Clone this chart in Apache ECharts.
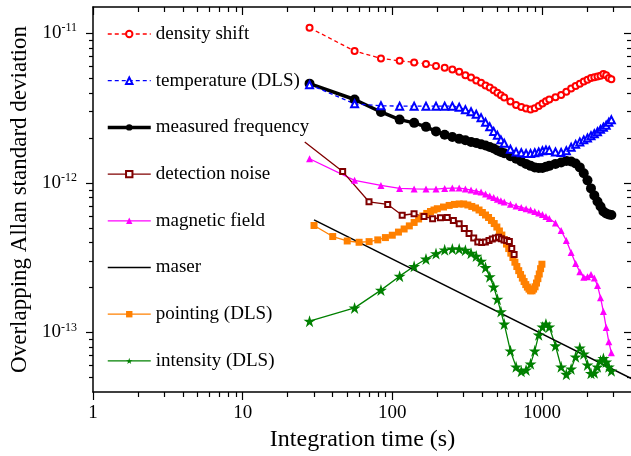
<!DOCTYPE html>
<html><head><meta charset="utf-8">
<script src="https://cdn.jsdelivr.net/npm/echarts@6/dist/echarts.min.js"></script>
<style>html,body{margin:0;padding:0;background:#fff}#c{width:631px;height:456px}</style>
</head><body><div id="c"></div>
<script>
// ---- data ----
const tau28 = [28,56,84,112,140,168,196,224,252,280,308,336,364,392,420,448,476,504,532,560,
  616,672,728,784,840,896,952,1008,1064,1120,
  1232,1344,1456,1568,1680,1792,1904,2016,2128,2240,2352,2464,2576,2688,2800,2912];

const densityShift = [1.09e-11,7.61e-12,6.80e-12,6.55e-12,6.39e-12,6.23e-12,6.04e-12,5.88e-12,5.74e-12,5.53e-12,
  5.25e-12,5.06e-12,4.84e-12,4.67e-12,4.48e-12,4.35e-12,4.17e-12,4.01e-12,3.86e-12,3.72e-12,
  3.50e-12,3.32e-12,3.22e-12,3.15e-12,3.10e-12,3.16e-12,3.27e-12,3.40e-12,3.52e-12,3.61e-12,
  3.74e-12,3.87e-12,4.07e-12,4.27e-12,4.45e-12,4.61e-12,4.77e-12,4.90e-12,5.02e-12,5.08e-12,
  5.15e-12,5.21e-12,5.35e-12,5.25e-12,5.02e-12,4.94e-12];

const temperatureDLS = [4.54e-12,3.38e-12,3.28e-12,3.26e-12,3.26e-12,3.26e-12,3.26e-12,3.26e-12,3.26e-12,3.21e-12,
  3.09e-12,2.99e-12,2.88e-12,2.73e-12,2.54e-12,2.37e-12,2.21e-12,2.08e-12,1.94e-12,1.84e-12,
  1.68e-12,1.61e-12,1.59e-12,1.57e-12,1.57e-12,1.59e-12,1.61e-12,1.64e-12,1.66e-12,1.65e-12,
  1.61e-12,1.60e-12,1.64e-12,1.73e-12,1.81e-12,1.88e-12,1.94e-12,2.00e-12,2.07e-12,2.13e-12,
  2.20e-12,2.28e-12,2.36e-12,2.43e-12,2.54e-12,2.64e-12];

const measuredFrequency = [4.61e-12,3.61e-12,2.98e-12,2.65e-12,2.52e-12,2.37e-12,2.21e-12,2.10e-12,2.03e-12,1.97e-12,
  1.93e-12,1.88e-12,1.85e-12,1.81e-12,1.78e-12,1.74e-12,1.70e-12,1.65e-12,1.61e-12,1.58e-12,
  1.51e-12,1.45e-12,1.39e-12,1.34e-12,1.30e-12,1.27e-12,1.26e-12,1.26e-12,1.28e-12,1.30e-12,
  1.34e-12,1.37e-12,1.40e-12,1.39e-12,1.35e-12,1.27e-12,1.16e-12,1.04e-12,9.19e-13,8.25e-13,
  7.52e-13,6.96e-13,6.44e-13,6.25e-13,6.15e-13,6.10e-13];

const magneticField = [1.45e-12,1.04e-12,9.62e-13,9.19e-13,9.12e-13,9.09e-13,9.09e-13,9.19e-13,9.23e-13,9.23e-13,
  9.12e-13,8.95e-13,8.81e-13,8.68e-13,8.44e-13,8.18e-13,7.99e-13,7.79e-13,7.60e-13,7.46e-13,
  7.20e-13,7.01e-13,6.85e-13,6.72e-13,6.59e-13,6.44e-13,6.29e-13,6.15e-13,5.96e-13,5.78e-13,
  5.39e-13,4.80e-13,4.12e-13,3.42e-13,2.89e-13,2.55e-13,2.34e-13,2.36e-13,2.44e-13,2.31e-13,
  2.06e-13,1.71e-13,1.38e-13,1.08e-13,8.66e-14,7.31e-14];

const intensityDLS = [1.19e-13,1.46e-13,1.92e-13,2.38e-13,2.77e-13,3.10e-13,3.37e-13,3.57e-13,3.62e-13,3.62e-13,
  3.55e-13,3.39e-13,3.24e-13,3.00e-13,2.72e-13,2.36e-13,2.02e-13,1.67e-13,1.38e-13,1.14e-13,
  7.54e-14,5.89e-14,5.50e-14,5.62e-14,6.17e-14,7.54e-14,9.65e-14,1.09e-13,1.14e-13,1.09e-13,
  8.15e-14,5.89e-14,5.26e-14,5.71e-14,6.87e-14,7.90e-14,7.20e-14,6.07e-14,5.33e-14,5.37e-14,
  5.89e-14,6.46e-14,6.71e-14,6.36e-14,5.89e-14,5.54e-14];

const tauDetection = [26,46.6,69.9,93.2,116.5,139.8,163,186,210,233,256,280,303,326,350,373,396,419,443,466,489,513,536,559,582,606,629,652];
const detectionNoise = [1.88e-12,1.19e-12,7.48e-13,7.18e-13,6.08e-13,6.22e-13,5.96e-13,5.76e-13,5.85e-13,5.87e-13,
  5.61e-13,5.33e-13,4.95e-13,4.59e-13,4.28e-13,4.02e-13,3.99e-13,4.02e-13,4.12e-13,4.21e-13,
  4.28e-13,4.33e-13,4.23e-13,4.16e-13,4.12e-13,4.05e-13,3.64e-13,3.32e-13];

const tauPointing = [30,40,50,60,70,80,90,100,110,120,130,140,150,160,170,180,190,200,
  220,240,260,280,300,320,340,360,380,400,420,440,460,480,500,520,540,560,580,600,
  620,640,660,680,700,720,740,760,780,800,820,840,860,880,900,920,940,960,980,1000];
const pointingDLS = [5.19e-13,4.38e-13,4.09e-13,4.01e-13,4.05e-13,4.16e-13,4.31e-13,4.47e-13,4.69e-13,4.92e-13,
  5.16e-13,5.44e-13,5.74e-13,6.01e-13,6.25e-13,6.44e-13,6.59e-13,6.72e-13,
  6.90e-13,7.07e-13,7.18e-13,7.23e-13,7.23e-13,7.12e-13,6.96e-13,6.80e-13,6.59e-13,6.34e-13,6.10e-13,5.87e-13,
  5.61e-13,5.35e-13,5.07e-13,4.77e-13,4.48e-13,4.18e-13,3.90e-13,3.64e-13,
  3.39e-13,3.17e-13,2.95e-13,2.76e-13,2.59e-13,2.44e-13,2.31e-13,2.19e-13,2.09e-13,2.01e-13,1.95e-13,1.90e-13,
  1.90e-13,1.95e-13,2.02e-13,2.14e-13,2.29e-13,2.46e-13,2.67e-13,2.86e-13];

const tauMaser = [30, 4000];
const maser = [5.66e-13, 4.9e-14];

const seriesNames = ['density shift','temperature (DLS)','measured frequency','detection noise',
  'magnetic field','maser','pointing (DLS)','intensity (DLS)'];

const xMajor = [1,10,100,1000];
const xMinor = [2,3,4,5,6,7,8,9,20,30,40,50,60,70,80,90,200,300,400,500,600,700,800,900,2000,3000];
const yMajor = [1e-13,1e-12,1e-11];
const yMinor = [5e-14,6e-14,7e-14,8e-14,9e-14,2e-13,3e-13,4e-13,5e-13,6e-13,7e-13,8e-13,9e-13,
  2e-12,3e-12,4e-12,5e-12,6e-12,7e-12,8e-12,9e-12];

// ---- chart ----
const FONT = 'Liberation Serif';
const zip = (xs, ys) => xs.map((x, i) => [x, ys[i]]);
const star = 'path://M0,-10L2.245,-3.09L9.51,-3.09L3.633,1.18L5.878,8.09L0,3.82L-5.878,8.09L-3.633,1.18L-9.51,-3.09L-2.245,-3.09Z';
const TICK = { color: '#000', width: 1.2 };

// one axis per tick set; the ticks follow the (custom) label positions
function axis(dim, pos, vals, len, inside, line, visibleLabels) {
  const a = {
    type: 'log', logBase: 10, gridIndex: 0, position: pos,
    min: dim === 'x' ? 1 : 4e-14, max: dim === 'x' ? 4000 : 1.5e-11,
    splitLine: { show: false },
    axisLine: { show: line, lineStyle: { color: '#000', width: 1.5 } },
    axisTick: { show: true, customValues: vals, length: len, inside: inside, lineStyle: TICK },
    axisLabel: { show: true, customValues: vals, hideOverlap: false, color: 'rgba(0,0,0,0)', fontSize: 1,
      margin: 0, inside: true, formatter: () => ' ' }
  };
  if (visibleLabels) {
    a.axisLabel = dim === 'x'
      ? { show: true, customValues: vals, margin: 12, color: '#000', fontFamily: FONT, fontSize: 19,
          formatter: v => String(Math.round(v)) }
      : { show: true, customValues: vals, margin: 16, color: '#000', fontFamily: FONT, fontSize: 19,
          formatter: v => '10{s|' + Math.round(Math.log10(v)) + '}',
          rich: { s: { fontFamily: FONT, fontSize: 12, padding: [0, 0, 10, 0], color: '#000' } } };
  }
  return a;
}

const xAxes = [
  Object.assign(axis('x', 'bottom', xMajor, 8, false, true, true), {
    name: 'Integration time (s)', nameLocation: 'middle', nameGap: 36,
    nameTextStyle: { fontFamily: FONT, fontSize: 24, color: '#000' } }),
  axis('x', 'bottom', xMinor, 5, false, false, false),
  axis('x', 'top', xMajor, 8, true, true, false),
  axis('x', 'top', xMinor, 5, true, false, false)
];
const yAxes = [
  Object.assign(axis('y', 'left', yMajor, 7, false, true, true), {
    name: 'Overlapping Allan standard deviation', nameLocation: 'middle', nameGap: 62,
    nameTextStyle: { fontFamily: FONT, fontSize: 23, color: '#000' } }),
  axis('y', 'left', yMinor, 4, false, false, false),
  axis('y', 'right', yMajor, 8, true, true, false),
  axis('y', 'right', yMinor, 5, true, false, false)
];

function line(name, data, color, symbol, size, width, dash) {
  return {
    name, type: 'line', xAxisIndex: 0, yAxisIndex: 0, data,
    symbol, symbolSize: size, showSymbol: symbol !== 'none',
    lineStyle: { color, width, type: dash || 'solid' },
    itemStyle: { color, borderWidth: 1 },
    animation: false, silent: true
  };
}

const detData = zip(tauDetection, detectionNoise).map((d, i) => i === 0 ? { value: d, symbol: 'none' } : d);

const series = [
  line('intensity (DLS)', zip(tau28, intensityDLS), '#008000', star, 12, 1.3),
  line('pointing (DLS)', zip(tauPointing, pointingDLS), '#ff8000', 'rect', 7, 1.3),
  line('maser', zip(tauMaser, maser), '#000000', 'none', 0, 1.5),
  line('magnetic field', zip(tau28, magneticField), '#ff00ff', 'triangle', 7, 1.3),
  line('detection noise', detData, '#800000', 'emptyRect', 5, 1.3),
  line('measured frequency', zip(tau28, measuredFrequency), '#000000', 'circle', 10, 3.5),
  line('temperature (DLS)', zip(tau28, temperatureDLS), '#0000ff', 'emptyTriangle', 7, 1.3, [4, 3]),
  line('density shift', zip(tau28, densityShift), '#ff0000', 'emptyCircle', 6, 1.3, [4, 3])
];
// empty helper series attaching the tick-only axes to the grid
for (let k = 1; k < 4; k++) {
  series.push({ type: 'line', xAxisIndex: k, yAxisIndex: k, data: [], silent: true, animation: false });
}

const legendData = seriesNames.map(n => {
  const item = { name: n, lineStyle: { width: n === 'measured frequency' ? 3.5 : 1.3 } };
  if (n === 'maser') item.itemStyle = { color: 'rgba(0,0,0,0)', borderWidth: 0, opacity: 0 };
  return item;
});

const chart = echarts.init(document.getElementById('c'), null, { renderer: 'canvas' });
chart.setOption({
  animation: false,
  backgroundColor: '#fff',
  grid: { left: 93, right: -1, top: 7, bottom: 64, containLabel: false, outerBoundsMode: 'none' },
  legend: {
    data: legendData, orient: 'vertical', left: 101, top: 19,
    itemWidth: 43, itemHeight: 8, itemGap: 26.7, selectedMode: false,
    textStyle: { fontFamily: FONT, fontSize: 19, color: '#000', lineHeight: 20 }
  },
  xAxis: xAxes,
  yAxis: yAxes,
  series
});
</script></body></html>
